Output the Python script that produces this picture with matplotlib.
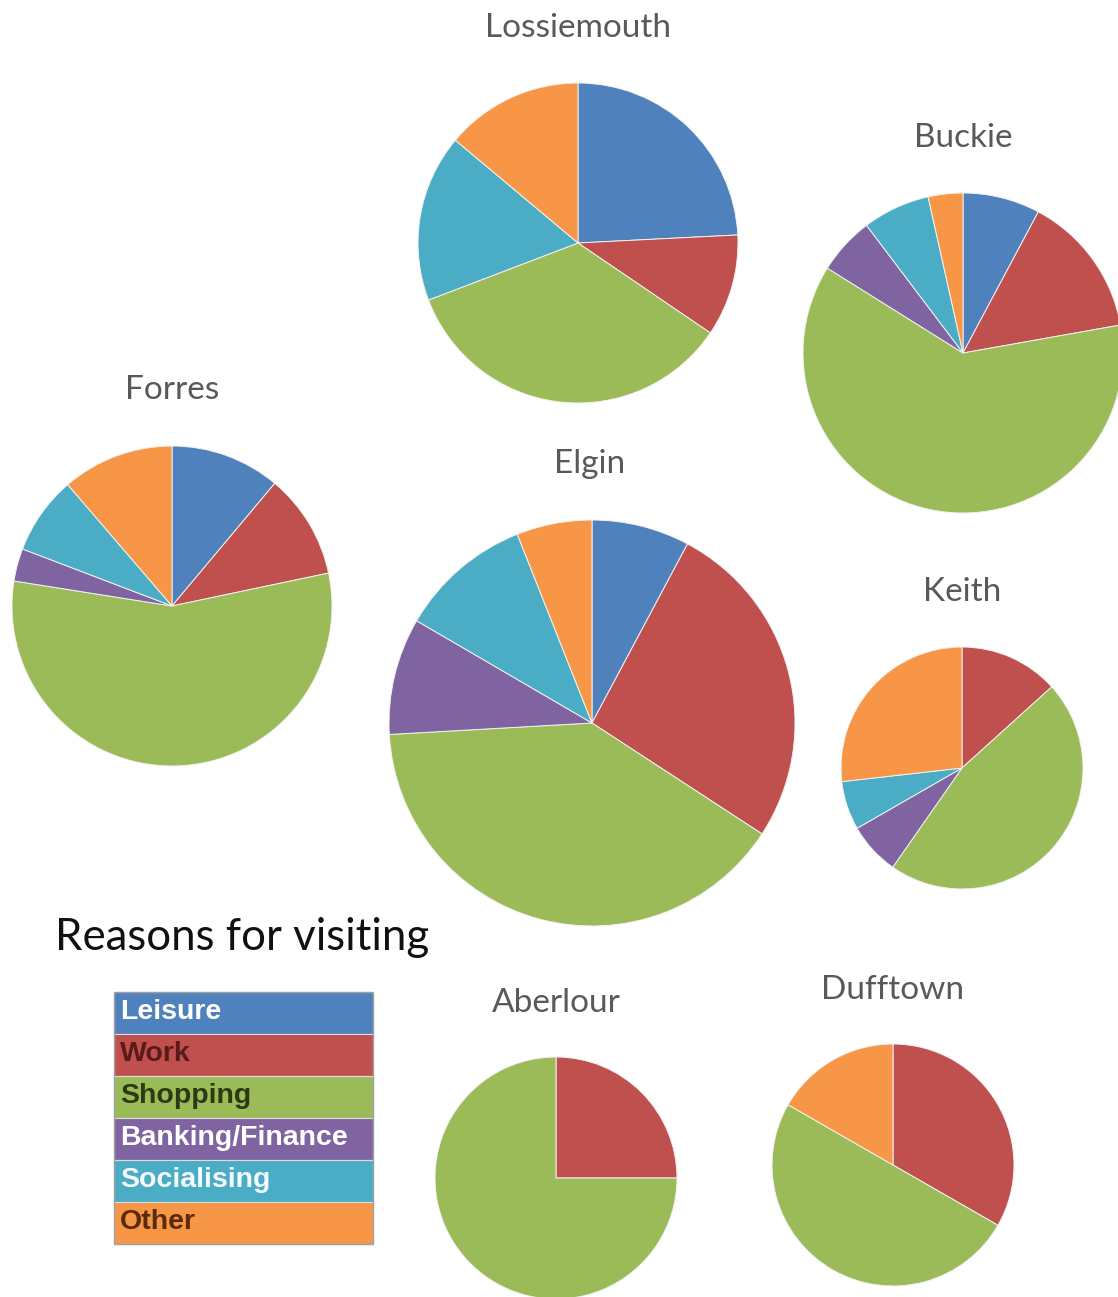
import matplotlib
matplotlib.use("Agg")
import matplotlib.pyplot as plt
from matplotlib.patches import Rectangle

W, H = 1118, 1297

categories = ["Leisure", "Work", "Shopping", "Banking/Finance", "Socialising", "Other"]
colors = ["#4F81BD", "#C0504D", "#9BBB59", "#8064A2", "#4BACC6", "#F79646"]
legend_text_colors = ["#FFFFFF", "#5A1A19", "#2A3A12", "#FFFFFF", "#F4FAFC", "#5A2A0C"]

towns = ["Lossiemouth", "Buckie", "Forres", "Elgin", "Keith", "Aberlour", "Dufftown"]

# percentage shares per town (order as categories)
lossiemouth = [24.2, 10.3, 34.7, 0.0, 16.9, 13.9]
buckie = [7.8, 14.4, 61.7, 5.8, 6.8, 3.5]
forres = [11.1, 10.6, 55.8, 3.3, 7.9, 11.3]
elgin = [7.8, 26.4, 39.9, 9.3, 10.6, 6.0]
keith = [0.0, 13.3, 46.4, 7.0, 6.5, 26.8]
aberlour = [0.0, 25.0, 75.0, 0.0, 0.0, 0.0]
dufftown = [0.0, 33.3, 50.0, 0.0, 0.0, 16.7]

town_values = [lossiemouth, buckie, forres, elgin, keith, aberlour, dufftown]

# layout (pixel positions, top-left origin)
centers = [(578, 243), (963, 353), (172, 606), (592, 723), (962, 768), (556, 1178), (893, 1165)]
radii = [160, 160, 160, 203, 121, 121, 121]
title_pos = [(578, 28), (963, 138), (172, 390), (590, 464), (962, 592), (556, 1003), (893, 990)]

fig = plt.figure(figsize=(W / 100, H / 100), dpi=100)
ax = fig.add_axes([0, 0, 1, 1])

for name, vals, (cx, cy), r, (tx, ty) in zip(towns, town_values, centers, radii, title_pos):
    v = [x for x in vals if x > 0]
    c = [col for x, col in zip(vals, colors) if x > 0]
    ax.pie(v, colors=c, startangle=90, counterclock=False,
           center=(cx, H - cy), radius=r, frame=True,
           wedgeprops=dict(edgecolor="#F2F2F2", linewidth=0.7))
    ax.text(tx, H - ty, name, ha="center", va="center", fontsize=24,
            color="#595959", family="Lato")

ax.text(55, H - 938, "Reasons for visiting", ha="left", va="center",
        fontsize=31.5, color="#111111", family="Lato")

# legend
lx0, lx1 = 114, 373
ly0 = 992
row_h = 42
for i, (cat, col, tcol) in enumerate(zip(categories, colors, legend_text_colors)):
    top = ly0 + i * row_h
    ax.add_patch(Rectangle((lx0, H - top - row_h), lx1 - lx0, row_h,
                           facecolor=col, edgecolor="#DDDDDD", linewidth=0.8, zorder=3))
    ax.text(lx0 + 6, H - top - row_h / 2 + 1, cat, ha="left", va="center",
            fontsize=20.5, fontweight="bold", color=tcol,
            family="Liberation Sans", zorder=4)
ax.add_patch(Rectangle((lx0, H - ly0 - 6 * row_h), lx1 - lx0, 6 * row_h,
                       facecolor="none", edgecolor="#A0A0A0", linewidth=1.0, zorder=5))

ax.set_xlim(0, W)
ax.set_ylim(0, H)
ax.set_aspect("equal")
ax.axis("off")

fig.savefig("out.png", dpi=100)
